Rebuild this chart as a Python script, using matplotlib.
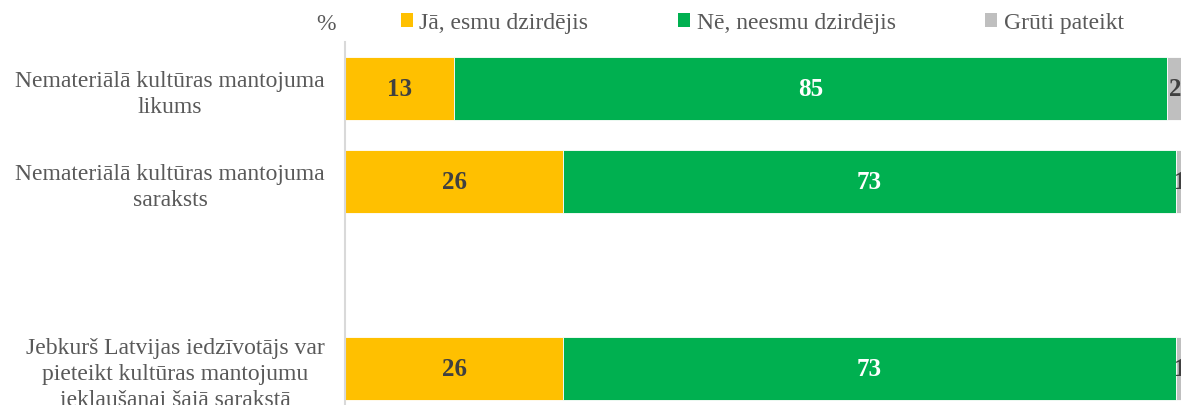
import matplotlib
matplotlib.use("Agg")
import matplotlib.pyplot as plt
from matplotlib.patches import Patch

categories = [
    "Nemateriālā kultūras mantojuma\nlikums",
    "Nemateriālā kultūras mantojuma\nsaraksts",
    "",
    "Jebkurš Latvijas iedzīvotājs var\npieteikt kultūras mantojumu\niekļaušanai šajā sarakstā",
]
series_names = ["Jā, esmu dzirdējis", "Nē, neesmu dzirdējis", "Grūti pateikt"]
yes_vals = [13, 26, None, 26]
no_vals = [85, 73, None, 73]
hard_vals = [2, 1, None, 1]

colors = ["#FFC000", "#00B050", "#BFBFBF"]
label_colors = ["#404040", "#FFFFFF", "#404040"]

plt.rcParams["font.family"] = ["Liberation Serif", "DejaVu Serif"]
W, H = 1181, 406
fig = plt.figure(figsize=(W / 100, H / 100), dpi=100)

ax_left = 345 / W
ax_right = (346 + 100 * 8.38) / W
ax_top = 1 - 43 / H
ax_bottom = 1 - 416 / H
ax = fig.add_axes([ax_left, ax_bottom, ax_right - ax_left, ax_top - ax_bottom])

ys = list(range(len(categories)))
series = [yes_vals, no_vals, hard_vals]
lefts = [0] * len(categories)
for si, vals in enumerate(series):
    for i, v in enumerate(vals):
        if v is None:
            continue
        ax.barh(ys[i], v, left=lefts[i], height=0.675, color=colors[si],
                edgecolor="white", linewidth=0.6)
        ax.text(lefts[i] + v / 2, ys[i], str(v), ha="center", va="center",
                fontsize=18, fontweight="bold", color=label_colors[si])
        lefts[i] += v

ax.set_xlim(0, 100)
ax.set_ylim(3.5, -0.5)
ax.set_yticks(ys)
ax.set_yticklabels(categories, fontsize=17, color="#595959",
                   multialignment="center", linespacing=1.32)
ax.tick_params(axis="y", length=0, pad=14.5)
ax.set_xticks([])
for s in ["top", "right", "bottom"]:
    ax.spines[s].set_visible(False)
ax.spines["left"].set_color("#D9D9D9")
ax.spines["left"].set_linewidth(1.5)

handles = [Patch(facecolor=c, edgecolor="none") for c in colors]
leg = fig.legend(handles, series_names, loc="center left", ncol=3,
                 bbox_to_anchor=(401 / W, 1 - 24 / H), frameon=False,
                 fontsize=17, handlelength=0.5, handleheight=0.5,
                 handletextpad=0.28, columnspacing=3.8, borderaxespad=0,
                 borderpad=0)
for t in leg.get_texts():
    t.set_color("#595959")

fig.text(326 / W, 1 - 25 / H, "%", ha="center", va="center", fontsize=17, color="#595959")

fig.savefig("out.png", dpi=100)
